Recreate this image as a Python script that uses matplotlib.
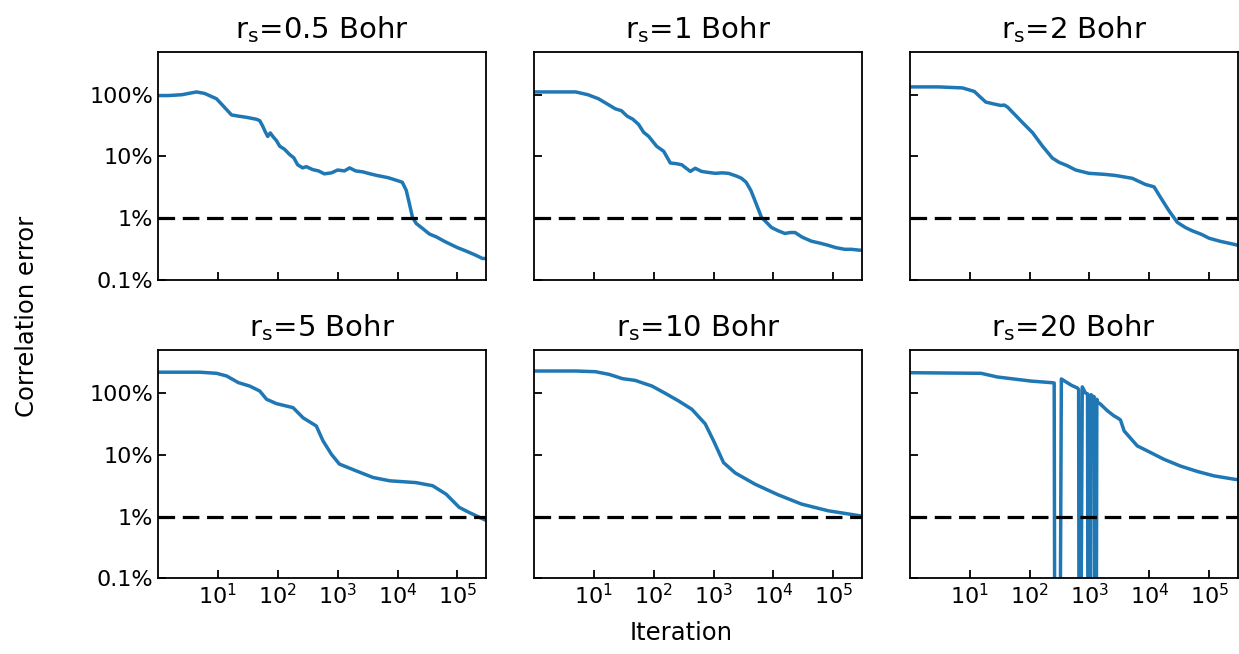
import numpy as np
import matplotlib
matplotlib.use("Agg")
import matplotlib.pyplot as plt
from matplotlib.ticker import FuncFormatter

# values, correlation error as a fraction (1 = 100%)
titles = ["r$_\\mathrm{s}$=0.5 Bohr", "r$_\\mathrm{s}$=1 Bohr", "r$_\\mathrm{s}$=2 Bohr",
          "r$_\\mathrm{s}$=5 Bohr", "r$_\\mathrm{s}$=10 Bohr", "r$_\\mathrm{s}$=20 Bohr"]

it_05 = [1, 1.5, 2.5, 4.4, 6, 9.5, 13, 16.9, 22, 30, 44, 50, 56, 62, 68, 75, 83, 95, 108, 130,
         158, 185, 215, 260, 300, 383, 480, 600, 790, 1000, 1300, 1585, 2000, 2630, 3500,
         4500, 5620, 7000, 9500, 12000, 14000, 15800, 17800, 20600, 26000, 34000, 45000,
         60000, 74000, 100000, 140000, 200000, 262000, 300000]
err_05 = [0.97, 0.97, 1.0, 1.11, 1.05, 0.86, 0.62, 0.47, 0.45, 0.43, 0.40, 0.38, 0.31, 0.25, 0.21,
          0.24, 0.21, 0.18, 0.146, 0.13, 0.107, 0.095, 0.073, 0.065, 0.068, 0.061, 0.058, 0.052,
          0.054, 0.060, 0.058, 0.065, 0.058, 0.056, 0.052, 0.049, 0.047, 0.045, 0.041, 0.038,
          0.028, 0.017, 0.0102, 0.0081, 0.0068, 0.0055, 0.0049, 0.0042, 0.0038, 0.0033,
          0.0029, 0.0025, 0.0022, 0.0022]

it_1 = [1, 2, 5, 8, 12, 18, 23, 29, 36, 45, 56, 68, 83, 112, 147, 190, 240, 295, 350, 410,
        495, 630, 800, 1070, 1400, 1780, 2400, 2940, 3500, 4200, 4930, 6300, 9300, 12000, 15600,
        19000, 23000, 30000, 43000, 60000, 82000, 110000, 155000, 200000, 275000, 300000]
err_1 = [1.11, 1.11, 1.11, 1.0, 0.86, 0.68, 0.59, 0.55, 0.45, 0.40, 0.33, 0.246, 0.21, 0.146,
         0.121, 0.078, 0.076, 0.073, 0.064, 0.057, 0.064, 0.057, 0.055, 0.053, 0.054, 0.053,
         0.048, 0.044, 0.038, 0.028, 0.019, 0.0103, 0.0070, 0.0062, 0.0056, 0.0058, 0.0058, 0.0049,
         0.0042, 0.0039, 0.0036, 0.0033, 0.0031, 0.0031, 0.0030, 0.0030]

it_2 = [1, 3, 7.6, 12, 15, 18.6, 25, 33, 38, 43, 52, 76, 112, 165, 240, 311, 420, 590, 985,
        1800, 2700, 5200, 8600, 12000, 15200, 21200, 29300, 40000, 52000, 75000, 99000,
        150000, 270000, 300000]
err_2 = [1.34, 1.34, 1.29, 1.13, 0.92, 0.76, 0.71, 0.67, 0.68, 0.63, 0.52, 0.355, 0.243, 0.146,
         0.094, 0.080, 0.071, 0.060, 0.053, 0.051, 0.049, 0.044, 0.035, 0.032, 0.022, 0.0132,
         0.0085, 0.0070, 0.0062, 0.0054, 0.0047, 0.0042, 0.0037, 0.0036]

it_5 = [1, 5, 9.5, 14, 22, 34, 50, 65, 95, 180, 265, 440, 570, 790, 1070, 2050, 3900, 7400,
        20400, 38600, 65000, 107000, 158000, 282000, 300000]
err_5 = [2.2, 2.2, 2.11, 1.91, 1.49, 1.31, 1.09, 0.80, 0.68, 0.585, 0.40, 0.295, 0.169, 0.102,
         0.071, 0.055, 0.043, 0.038, 0.0355, 0.0316, 0.023, 0.0141, 0.0116, 0.0089, 0.0087]

it_10 = [1, 5, 10.7, 18, 30, 49, 94, 156, 262, 435, 725, 1000, 1470, 2300, 4930, 12000, 29600,
         82000, 275000, 300000]
err_10 = [2.3, 2.3, 2.24, 2.03, 1.73, 1.62, 1.31, 1.0, 0.75, 0.55, 0.32, 0.17, 0.075, 0.051,
          0.0335, 0.0225, 0.0159, 0.0124, 0.0103, 0.0102]

it_20 = [1, 15.5, 29, 105, 228, 258, 266, 318, 340, 370, 500, 630, 660, 675, 705, 760, 860,
         930, 950, 1030, 1060, 1120, 1200, 1240, 1290, 1330, 1360, 1520, 2000, 2570, 2930,
         3300, 3800, 6300, 9300, 17500, 33000, 63000, 120000, 275000, 300000]
err_20 = [2.16, 2.11, 1.84, 1.58, 1.49, 1.47, 1e-6, 1e-6, 1.71, 1.62, 1.35, 1.22, 1.15, 1e-6, 1e-6,
          1.27, 1.01, 0.98, 1e-6, 1e-6, 0.95, 0.90, 0.88, 1e-6, 1e-6, 0.80, 0.72, 0.67, 0.52,
          0.43, 0.40, 0.37, 0.245, 0.14, 0.116, 0.085, 0.066, 0.054, 0.0457, 0.040, 0.0398]

target = 0.01
xticks = [1e1, 1e2, 1e3, 1e4, 1e5]
yticks = [1e-3, 1e-2, 1e-1, 1]

series = [(it_05, err_05), (it_1, err_1), (it_2, err_2),
          (it_5, err_5), (it_10, err_10), (it_20, err_20)]

plt.rcParams["font.size"] = 16

fig, axes = plt.subplots(2, 3, sharex=True, sharey=True, figsize=(12.39, 6.54), dpi=100)
fig.subplots_adjust(left=0.1275, right=0.999, top=0.921, bottom=0.116, wspace=0.146, hspace=0.31)

pct = FuncFormatter(lambda v, pos: "%g%%" % (v * 100))

for ax, (x, y), t in zip(axes.flat, series, titles):
    ax.plot(x, y, color="#1f77b4", lw=2.5)
    ax.axhline(target, color="black", ls="--", lw=2.3, dashes=(5.2, 2.4))
    ax.set_xscale("log")
    ax.set_yscale("log")
    ax.set_xlim(1, 3e5)
    ax.set_ylim(1e-3, 5)
    ax.set_xticks(xticks)
    ax.set_yticks(yticks)
    ax.minorticks_off()
    ax.yaxis.set_major_formatter(pct)
    ax.tick_params(direction="in", length=6, width=1.3)
    ax.set_title(t, fontsize=21, pad=10)
    for s in ax.spines.values():
        s.set_linewidth(1.3)

fig.text(0.022, 0.517, "Correlation error", rotation=90, ha="center", va="center", fontsize=17.5)
fig.text(0.55, 0.014, "Iteration", ha="center", va="bottom", fontsize=17.5)

fig.savefig("out.png", dpi=100)
